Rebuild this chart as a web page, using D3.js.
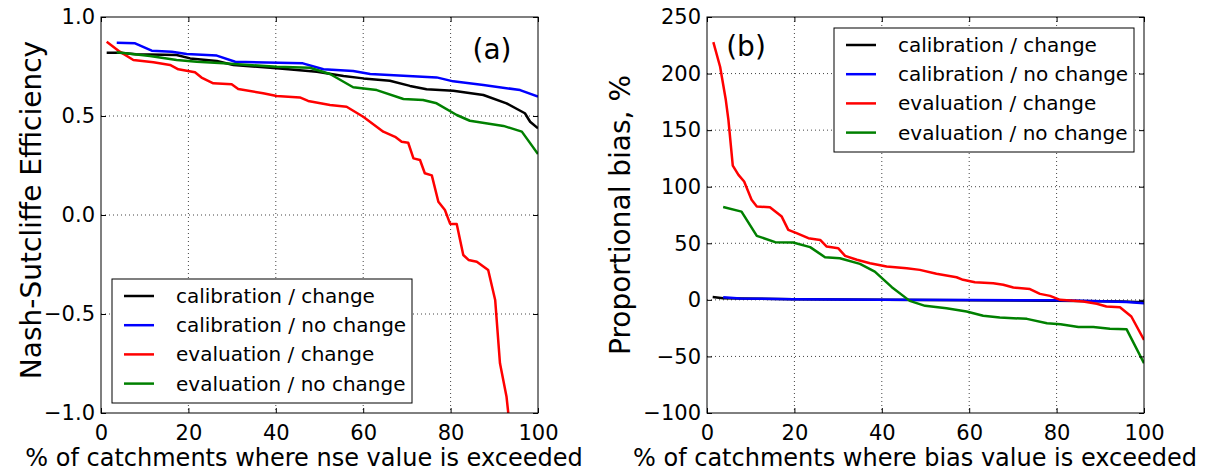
<!DOCTYPE html>
<html lang="en">
  <head>
    <meta charset="utf-8" />
    <title>NSE and bias exceedance</title>
    <script src="https://cdn.jsdelivr.net/npm/d3@7"></script>
    <style>
      body { margin: 0; background: #fff; }
      text { font-family: "DejaVu Sans", sans-serif; fill: #000; }
    </style>
  </head>
  <body>
    <script>
      // series names + colours (same in both panels)
      var seriesNames = ["calibration / change", "calibration / no change", "evaluation / change", "evaluation / no change"]
      var seriesColors = ["#000000", "#0000ff", "#ff0000", "#008000"]

      // panel (a): nash-sutcliffe efficiency, [% exceeded, nse]
      var nseCalChange = [[1.3,0.82],[4.3,0.82],[8,0.812],[17.3,0.808],[20.4,0.791],[26.5,0.778],[30.3,0.758],[40.2,0.741],
        [49.4,0.724],[55.5,0.702],[60,0.69],[66.1,0.678],[70.7,0.652],[74.5,0.635],[80.6,0.628],[87.5,0.606],
        [92.8,0.564],[97,0.514],[98.2,0.471],[100,0.438]]
      var nseCalNoChange = [[3.6,0.87],[7.8,0.867],[11.6,0.83],[16.2,0.825],[19.6,0.813],[26.5,0.805],[30.7,0.774],
        [46.2,0.766],[50.9,0.736],[57.7,0.727],[61.6,0.712],[76.8,0.695],[80.6,0.675],[87.5,0.657],[95.9,0.631],[100,0.598]]
      var nseEvalChange = [[1.3,0.875],[4.3,0.825],[7.4,0.783],[12,0.771],[15.8,0.758],[17.7,0.736],[21.5,0.721],[23,0.694],
        [25.7,0.665],[29.9,0.66],[31.4,0.636],[37.1,0.615],[40.2,0.601],[45.5,0.594],[47.4,0.576],[52.4,0.556],
        [56.2,0.547],[60,0.496],[64.6,0.421],[67.3,0.395],[68.8,0.37],[70.3,0.365],[71.5,0.286],[73,0.278],
        [74.1,0.211],[75.7,0.2],[77.2,0.067],[78.7,0.025],[79.9,-0.045],[81.4,-0.045],[82.9,-0.202],[84.1,-0.227],
        [86,-0.236],[88.6,-0.278],[90.2,-0.429],[91.3,-0.749],[92.8,-0.918],[93.2,-1.0]]
      var nseEvalNoChange = [[3.6,0.822],[11.2,0.803],[17.3,0.783],[21.9,0.774],[28,0.766],[40.2,0.749],[47.8,0.744],
        [52.4,0.712],[57.7,0.645],[63.1,0.631],[69.2,0.586],[73.7,0.581],[76.8,0.564],[81.4,0.505],[84.4,0.476],
        [92.1,0.45],[96.3,0.421],[100,0.308]]

      // panel (b): proportional bias %, [% exceeded, bias]
      var biasCalChange = [[1.3,2.5],[3.7,1.5],[7.6,1.2],[19.7,0.6],[40,0.2],[60,-0.3],[80,-0.8],[95,-1.5],[100,-2.2]]
      var biasCalNoChange = [[3.7,2.4],[7.6,1.2],[19.7,0.6],[40,0.2],[60,-0.2],[80,-0.4],[90,-1.2],[96,-1.8],[100,-2.9]]
      var biasEvalChange = [[1.45,227.8],[3,206],[4.3,176.8],[4.9,159],[5.9,118.7],[7.2,110.5],[8.5,104.6],[10.2,88.4],
        [11.4,82.5],[14.4,81.9],[17.1,73.6],[18.6,61.9],[20.5,59],[23.2,54.5],[25.9,53],[27.4,47.1],[30,45.7],
        [31.6,38.9],[34.3,35.4],[37.3,32.4],[41.1,29.4],[45.7,28],[48.7,26.5],[52.5,23],[57.1,20],[58.6,17.7],
        [61.3,15.6],[65.5,14.7],[67.8,13.3],[70.1,10.9],[73.9,9.5],[76.2,5.3],[78.5,3.5],[80.8,0],[86.1,-1.5],
        [89.2,-3.5],[91.4,-5.9],[94.5,-6.5],[97.1,-14.7],[100,-35.4]]
      var biasEvalNoChange = [[3.7,82],[7.9,78],[11.4,56.6],[15.6,51],[19.7,50.7],[23.6,46.6],[27,37.7],[30.4,36.8],
        [35,31.8],[38.4,25],[42.3,11.2],[46.4,-0.9],[49.9,-5.3],[54.8,-7.4],[59.4,-10.3],[63.2,-14.1],[67,-15.6],
        [73.2,-16.8],[77.8,-20.6],[80.9,-21.5],[85,-23.9],[88.4,-23.9],[92.2,-25.6],[96,-25.9],[100,-56]]

      // ticks
      var xTicks = [0, 20, 40, 60, 80, 100]
      var nseTicks = [-1.0, -0.5, 0.0, 0.5, 1.0]
      var biasTicks = [-100, -50, 0, 50, 100, 150, 200, 250]

      var W = 1207, H = 472
      var svg = d3.select("body").append("svg")
                  .attr("width", W)
                  .attr("height", H)

      function panel(opt) {
        var left = opt.left, top = 17, width = 437, height = 396
        var g = svg.append("g").attr("transform", "translate(" + left + "," + top + ")")

        var x = d3.scaleLinear().domain([0, 100]).range([0, width])
        var y = d3.scaleLinear().domain(opt.yDomain).range([height, 0])

        // dotted grid
        g.append("g").selectAll("line").data(xTicks.slice(1, -1)).enter().append("line")
          .attr("x1", d => x(d)).attr("x2", d => x(d)).attr("y1", 0).attr("y2", height)
          .attr("stroke", "#444").attr("stroke-width", 1).attr("stroke-dasharray", "1,3")
        g.append("g").selectAll("line").data(opt.yTicks.slice(1, -1)).enter().append("line")
          .attr("x1", 0).attr("x2", width).attr("y1", d => y(d)).attr("y2", d => y(d))
          .attr("stroke", "#444").attr("stroke-width", 1).attr("stroke-dasharray", "1,3")

        // series
        var line = d3.line().x(d => x(d[0])).y(d => y(d[1]))
        g.append("defs").append("clipPath").attr("id", "clip" + opt.id)
          .append("rect").attr("width", width).attr("height", height)
        var lines = g.append("g").attr("clip-path", "url(#clip" + opt.id + ")")
        opt.series.forEach(function(s, i) {
          lines.append("path").datum(s)
            .attr("d", line)
            .attr("fill", "none")
            .attr("stroke", seriesColors[i])
            .attr("stroke-width", 2.5)
            .attr("stroke-linejoin", "round")
        })

        // axes, ticks pointing inward on all sides
        var fmt = opt.fmt
        var axB = g.append("g").attr("transform", "translate(0," + height + ")")
          .call(d3.axisBottom(x).tickValues(xTicks).tickSizeInner(-5).tickSizeOuter(0).tickPadding(12))
        var axT = g.append("g")
          .call(d3.axisTop(x).tickValues(xTicks).tickSizeInner(-5).tickSizeOuter(0).tickFormat(""))
        var axL = g.append("g")
          .call(d3.axisLeft(y).tickValues(opt.yTicks).tickSizeInner(-5).tickSizeOuter(0).tickPadding(opt.yPad).tickFormat(fmt))
        var axR = g.append("g").attr("transform", "translate(" + width + ",0)")
          .call(d3.axisRight(y).tickValues(opt.yTicks).tickSizeInner(-5).tickSizeOuter(0).tickFormat(""))
        ;[axB, axT, axL, axR].forEach(function(a) {
          a.select(".domain").remove()
          a.selectAll("line").attr("stroke", "#000")
          a.selectAll("text").style("font-size", "21px").style("font-family", "DejaVu Sans")
        })
        axB.selectAll("text").attr("dy", "0.71em")

        g.append("rect").attr("width", width).attr("height", height)
          .attr("fill", "none").attr("stroke", "#000").attr("stroke-width", 1)

        // panel tag
        g.append("text").attr("x", opt.tag[0]).attr("y", opt.tag[1])
          .attr("text-anchor", "middle").style("font-size", "28px").text(opt.tagText)

        // axis titles
        g.append("text").attr("x", opt.xLabelX).attr("y", height + 53)
          .attr("text-anchor", "middle").style("font-size", "24px").text(opt.xLabel)
        g.append("text")
          .attr("transform", "translate(" + opt.yLabelX + "," + (height / 2 + opt.yLabelDy) + ") rotate(-90)")
          .attr("text-anchor", "middle").style("font-size", "28px").text(opt.yLabel)

        // legend
        var lg = g.append("g").attr("transform", "translate(" + opt.legend[0] + "," + opt.legend[1] + ")")
        lg.append("rect").attr("width", 300).attr("height", 124)
          .attr("fill", "#fff").attr("stroke", "#000").attr("stroke-width", 1)
        seriesNames.forEach(function(n, i) {
          var yy = 17 + i * 29.2
          lg.append("line").attr("x1", 12).attr("x2", 42).attr("y1", yy).attr("y2", yy)
            .attr("stroke", seriesColors[i]).attr("stroke-width", 2.5)
          lg.append("text").attr("x", 64).attr("y", yy).attr("dy", "0.35em")
            .style("font-size", "20px").text(n)
        })
      }

      panel({
        id: "a", left: 101, yDomain: [-1, 1], yTicks: nseTicks, yPad: 6,
        fmt: d3.format(".1f"),
        series: [nseCalChange, nseCalNoChange, nseEvalChange, nseEvalNoChange],
        tag: [391, 42], tagText: "(a)",
        xLabel: "% of catchments where nse value is exceeded", xLabelX: 203,
        yLabel: "Nash-Sutcliffe Efficiency", yLabelX: -60, yLabelDy: -5,
        legend: [11, 262]
      })
      panel({
        id: "b", left: 707, yDomain: [-100, 250], yTicks: biasTicks, yPad: 6,
        fmt: d3.format("d"),
        series: [biasCalChange, biasCalNoChange, biasEvalChange, biasEvalNoChange],
        tag: [39, 39], tagText: "(b)",
        xLabel: "% of catchments where bias value is exceeded", xLabelX: 208,
        yLabel: "Proportional bias, %", yLabelX: -77, yLabelDy: 0,
        legend: [127, 11]
      })

      // unicode minus like matplotlib
      svg.selectAll(".tick text").each(function() {
        var t = d3.select(this)
        t.text(t.text().replace("-", "\u2212"))
      })
    </script>
  </body>
</html>
